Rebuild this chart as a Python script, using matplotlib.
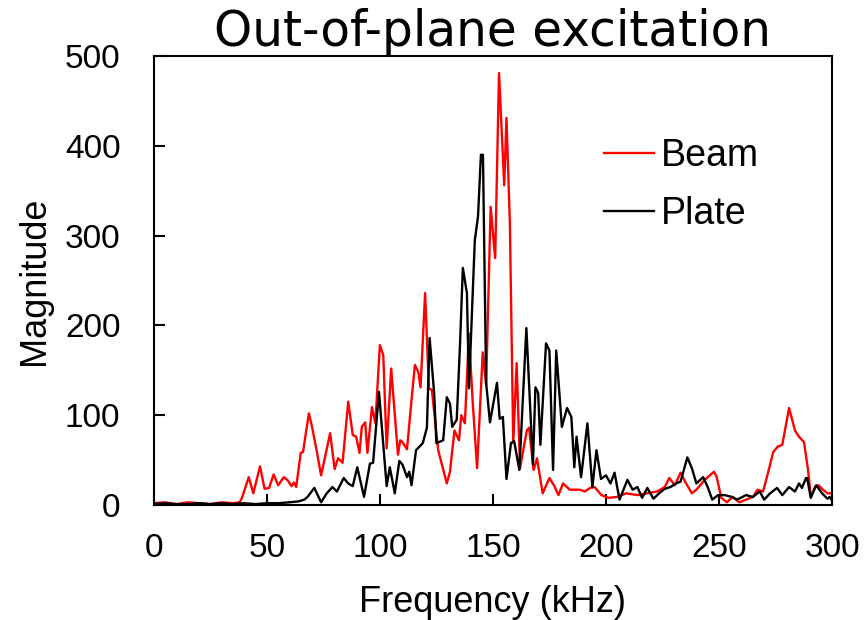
import numpy as np
import matplotlib.pyplot as plt

# values (kHz, magnitude)
beam_freq = [0, 5, 10, 15, 20, 25, 30, 35, 38, 39, 42, 44, 47, 49, 51, 53, 55, 57.5, 59, 61, 62, 63,
             65, 66, 68.6, 70, 72, 74, 78, 80, 81.5, 83.5, 86, 88, 89.5, 91, 92, 93.5, 94.5, 96.5, 98,
             100, 101.5, 103, 105, 108, 109, 110, 112, 114, 115.5, 117, 118, 120, 121.7, 123, 125.8,
             129.6, 131, 133, 135, 136, 137.6, 139.4, 141, 143, 145.5, 147, 149, 151, 152.7, 155, 156,
             157.5, 159, 160.5, 162, 165, 166, 168, 169.5, 172, 175, 177, 179, 181, 184, 186, 188.5,
             190.7, 193, 195, 198, 201, 205, 209, 214, 218, 222.6, 226, 228, 230.5, 233, 235, 238, 240,
             243, 245, 247.8, 249, 251, 253.5, 256, 259, 262, 265, 267, 269.5, 271.7, 274, 276, 278,
             281, 283.6, 285.4, 287.6, 289.4, 290.6, 292.5, 294, 296, 298, 300]
beam_mag = [2, 3, 1, 3, 2, 1, 3, 2, 3, 8, 31, 13, 43, 18, 19, 34, 22, 31, 28, 21, 25, 20,
            58, 59, 102, 87, 61, 33, 80, 40, 52, 47, 115, 78, 76, 58, 87, 92, 58, 109, 91,
            178, 167, 63, 152, 56, 72, 70, 62, 117, 156, 148, 131, 236, 130, 128, 61,
            24, 37, 83, 72, 100, 91, 191, 117, 41, 170, 134, 332, 275, 481, 356, 431,
            314, 69, 158, 41, 83, 86, 39, 52, 13, 30, 22, 11, 24, 17, 17, 17,
            15, 19, 20, 11, 8, 9, 13, 11, 13, 15, 20, 30, 22, 36, 26, 13, 17,
            26, 31, 37, 31, 8, 3, 9, 3, 6, 9, 17, 15, 36, 59, 65, 67,
            108, 83, 76, 70, 39, 9, 20, 22, 17, 13, 13]

plate_freq = [0, 5, 10, 15, 20, 25, 30, 35, 40, 45, 50, 55, 60, 64, 66.6, 68, 71, 74, 76.5, 79, 81,
              84, 86, 88, 90, 93, 95.6, 97, 99.6, 103, 104.4, 106.6, 108.6, 110, 112, 113, 114, 116,
              119, 120.8, 122, 124, 125, 128, 129.6, 131, 132, 134, 135.4, 136.7, 138.5, 139.4, 142,
              143.4, 144.7, 145.6, 147, 148.7, 151.8, 153, 154.4, 156, 158, 159.4, 161.7, 164.8, 167.7,
              168.8, 170, 171, 173.5, 175, 176.6, 178, 180.5, 182.8, 184.7, 186, 187, 189, 191.8, 194,
              195.8, 197.8, 200, 202, 203.8, 206, 209.5, 211.8, 213.9, 216, 218.3, 221, 223.5, 226,
              228.5, 231, 233, 236, 238, 240, 243, 245, 247, 249.6, 252.6, 255.7, 258, 262, 265, 268,
              270, 272.6, 275.7, 278, 281, 283.6, 285.4, 286.7, 288.5, 289, 290.6, 293, 295.6, 298,
              299, 300]
plate_mag = [1, 2, 1, 1, 2, 1, 2, 1, 2, 1, 2, 2, 3, 4, 6, 9, 19, 3, 13, 20, 15,
             30, 24, 21, 42, 9, 46, 47, 126, 21, 42, 13, 49, 45, 31, 37, 22, 61,
             69, 86, 186, 125, 69, 72, 120, 113, 87, 95, 176, 264, 236, 130, 295,
             321, 390, 390, 136, 92, 136, 96, 98, 29, 69, 71, 39, 197, 45,
             131, 125, 67, 180, 172, 39, 172, 87, 108, 98, 42, 76, 31, 91, 20,
             61, 29, 33, 24, 36, 6, 28, 17, 20, 8, 19, 7, 13, 18,
             20, 24, 26, 53, 41, 24, 31, 20, 6, 11, 11, 9, 6, 11, 9, 15,
             6, 13, 19, 11, 20, 15, 24, 19, 30, 30, 8, 22, 13, 7,
             9, 5]

x_ticks = [0, 50, 100, 150, 200, 250, 300]
y_ticks = [0, 100, 200, 300, 400, 500]

fig = plt.figure(figsize=(8.64, 6.2), dpi=100)
ax = fig.add_axes([0.178, 0.1855, 0.785, 0.7242])

ax.plot(beam_freq, beam_mag, color='#ff0000', linewidth=1.7, label='Beam')
ax.plot(plate_freq, plate_mag, color='black', linewidth=1.7, label='Plate')

ax.set_xlim(0, 300)
ax.set_ylim(0, 500)
ax.set_xticks(x_ticks)
ax.set_yticks(y_ticks)
ax.tick_params(direction='in', length=8, width=1.5, labelsize=24,
               top=False, right=False)
ax.tick_params(axis='x', pad=20)
ax.tick_params(axis='y', pad=24)
for lab in ax.get_xticklabels() + ax.get_yticklabels():
    lab.set_family('Liberation Sans')
for s in ax.spines.values():
    s.set_linewidth(1.5)

ax.set_xlabel('Frequency (kHz)', fontsize=26, family='Liberation Sans', labelpad=15)
ax.set_ylabel('Magnitude', fontsize=26, family='Liberation Sans', labelpad=9)
ax.set_title('Out-of-plane excitation', fontsize=35, family='DejaVu Sans', pad=0)

leg = ax.legend(loc='upper right', bbox_to_anchor=(0.893, 0.818), frameon=False,
                prop={'family': 'Liberation Sans', 'size': 27},
                handlelength=1.33, handletextpad=0.19, labelspacing=0.6,
                borderpad=0, borderaxespad=0)

fig.savefig('out.png', dpi=100)
